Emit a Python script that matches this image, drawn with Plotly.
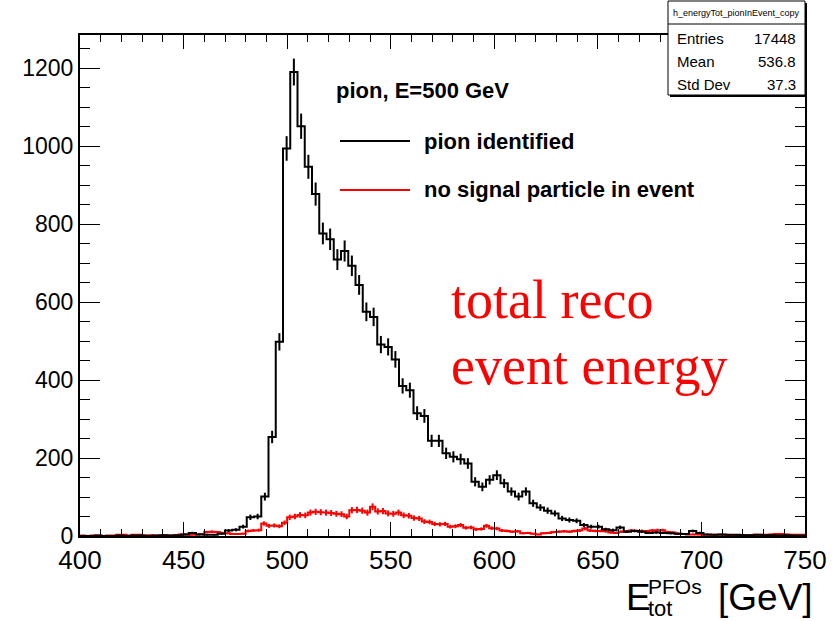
import numpy as np
import plotly.graph_objects as go

# ---------------- data ----------------
x_min, x_max = 400.0, 750.0
pion_bin_width = 3.5      # 100 bins
nosig_bin_width = 2.5     # 140 bins

pion_counts = [
    0, 0, 1, 0, 0, 1, 0, 1, 1, 0,
    1, 2, 1, 2, 4, 8, 4, 3, 3, 6,
    14, 16, 24, 48, 50, 101, 254, 498, 994, 1190,
    1051, 947, 877, 776, 761, 709, 731, 693, 644, 575,
    562, 491, 485, 453, 385, 374, 315, 308, 244, 244,
    212, 203, 197, 186, 139, 126, 144, 156, 135, 114,
    101, 114, 84, 73, 65, 58, 45, 41, 39, 28,
    24, 24, 17, 15, 22, 11, 13, 11, 8, 9,
    8, 7, 6, 5, 13, 8, 4, 3, 4, 3,
    3, 2, 2, 3, 2, 2, 1, 2, 1, 1,
]

nosig_counts = [
    1, 0, 1, 1, 0, 1, 1, 3, 3, 1,
    3, 3, 1, 2, 1, 1, 2, 1, 2, 4,
    4, 3, 4, 5, 10, 11, 10, 8, 7, 5,
    5, 6, 13, 14, 15, 32, 26, 27, 25, 34,
    48, 50, 54, 53, 60, 62, 61, 60, 59, 57,
    56, 50, 66, 67, 65, 60, 75, 63, 64, 58,
    57, 60, 53, 52, 46, 45, 37, 36, 31, 30,
    31, 24, 25, 28, 21, 22, 17, 18, 26, 20,
    19, 14, 13, 11, 12, 7, 8, 6, 4, 7,
    8, 10, 11, 12, 11, 13, 14, 19, 14, 13,
    13, 12, 9, 8, 11, 12, 14, 13, 13, 12,
    14, 15, 15, 10, 9, 6, 5, 4, 4, 4,
    3, 3, 3, 3, 3, 2, 2, 2, 2, 2,
    3, 3, 3, 4, 5, 5, 4, 3, 3, 3,
]

x_ticks = [400, 450, 500, 550, 600, 650, 700, 750]
y_ticks = [0, 200, 400, 600, 800, 1000, 1200]

stats_title = "h_energyTot_pionInEvent_copy"
stats_labels = ["Entries", "Mean", "Std Dev"]
stats_values = ["17448", "536.8", "37.3"]

# ---------------- figure ----------------
W, H = 832, 621
L, R, T, B = 80, 27, 35, 85
pw, ph = W - L - R, H - T - B


def px(x):
    return (x - L) / pw


def py(y):
    return (H - B - y) / ph


def hist_traces(counts, width, color, name):
    c = np.asarray(counts, dtype=float)
    n = len(c)
    edges = x_min + width * np.arange(n + 1)
    centers = edges[:-1] + width / 2
    step = go.Scatter(
        x=edges, y=np.append(c, c[-1]), mode="lines",
        line=dict(shape="hv", color=color, width=2),
        name=name, showlegend=False, hoverinfo="skip",
    )
    err = go.Scatter(
        x=centers, y=c, mode="markers",
        marker=dict(size=1, color=color),
        error_y=dict(type="data", array=np.sqrt(c), color=color,
                     thickness=2, width=0),
        showlegend=False, hoverinfo="skip",
    )
    return [step, err]


fig = go.Figure()
for tr in hist_traces(nosig_counts, nosig_bin_width, "#ff0000",
                      "no signal particle in event"):
    fig.add_trace(tr)
for tr in hist_traces(pion_counts, pion_bin_width, "#000000",
                      "pion identified"):
    fig.add_trace(tr)

fig.update_layout(
    width=W, height=H,
    margin=dict(l=L, r=R, t=T, b=B, pad=0),
    paper_bgcolor="white", plot_bgcolor="white",
    font=dict(family="Liberation Sans, Arial, sans-serif", color="black"),
    showlegend=False,
)
fig.update_xaxes(
    range=[x_min, x_max], tickvals=x_ticks, automargin=False,
    ticks="inside", ticklen=14, tickwidth=1, tickcolor="black",
    minor=dict(dtick=10, ticks="inside", ticklen=7, tickwidth=1,
               tickcolor="black", showgrid=False),
    showline=True, linecolor="black", linewidth=2, mirror="allticks",
    showgrid=False, zeroline=False,
    tickfont=dict(size=26, family="Liberation Sans, Arial, sans-serif"),
)
fig.update_yaxes(
    range=[0, 1285], tickvals=y_ticks, automargin=False,
    ticks="inside", ticklen=20, tickwidth=1, tickcolor="black",
    minor=dict(dtick=50, ticks="inside", ticklen=10, tickwidth=1,
               tickcolor="black", showgrid=False),
    showline=True, linecolor="black", linewidth=2, mirror="allticks",
    showgrid=False, zeroline=False,
    tickfont=dict(size=23, family="Liberation Sans, Arial, sans-serif"),
)

annots = []
# axis title E_tot^PFOs [GeV]
annots.append(dict(x=px(624), y=py(597), text="E", font=dict(size=37)))
annots.append(dict(x=px(646), y=py(586), text="PFOs", font=dict(size=21)))
annots.append(dict(x=px(646), y=py(608), text="tot", font=dict(size=22)))
annots.append(dict(x=px(716), y=py(597), text="[GeV]", font=dict(size=37)))

# legend-ish text
bold = "Liberation Sans, Arial, sans-serif"
annots.append(dict(x=px(334), y=py(91), text="<b>pion, E=500 GeV</b>",
                   font=dict(size=22, family=bold)))
annots.append(dict(x=px(422), y=py(141), text="<b>pion identified</b>",
                   font=dict(size=22, family=bold)))
annots.append(dict(x=px(422), y=py(189),
                   text="<b>no signal particle in event</b>",
                   font=dict(size=22, family=bold)))

# red serif text
serif = "Liberation Serif, Times New Roman, serif"
annots.append(dict(x=px(449), y=py(300), text="total reco",
                   font=dict(size=54, family=serif, color="#ff0000")))
annots.append(dict(x=px(449), y=py(366), text="event energy",
                   font=dict(size=54, family=serif, color="#ff0000")))

# stats box text
stats_annots = [dict(x=px(736.5), y=py(13), text=stats_title,
                     font=dict(size=9), xanchor="center")]
for i, (lab, val) in enumerate(zip(stats_labels, stats_values)):
    yy = 38 + 23 * i
    stats_annots.append(dict(x=px(675), y=py(yy), text=lab,
                             font=dict(size=15)))
    stats_annots.append(dict(x=px(798), y=py(yy), text=val,
                             font=dict(size=15), xanchor="right"))
annots += stats_annots

for a in annots:
    a.setdefault("xanchor", "left")
    a.update(xref="paper", yref="paper", yanchor="middle",
             showarrow=False)
fig.update_layout(annotations=annots)

shapes = [
    # legend lines
    dict(type="line", x0=px(340), x1=px(410), y0=py(141), y1=py(141),
         line=dict(color="black", width=2)),
    dict(type="line", x0=px(340), x1=px(410), y0=py(190), y1=py(190),
         line=dict(color="#ff0000", width=2)),
    # stats box shadow + box
    dict(type="rect", x0=px(670), x1=px(807), y0=py(3), y1=py(97),
         fillcolor="black", line=dict(width=0), layer="above"),
    dict(type="rect", x0=px(668), x1=px(805), y0=py(1), y1=py(95),
         fillcolor="white", line=dict(color="black", width=1),
         layer="above"),
    dict(type="line", x0=px(668), x1=px(805), y0=py(24), y1=py(24),
         line=dict(color="black", width=1), layer="above"),
]
for s in shapes:
    s.update(xref="paper", yref="paper")
fig.update_layout(shapes=shapes)

fig.write_html("out.html")
